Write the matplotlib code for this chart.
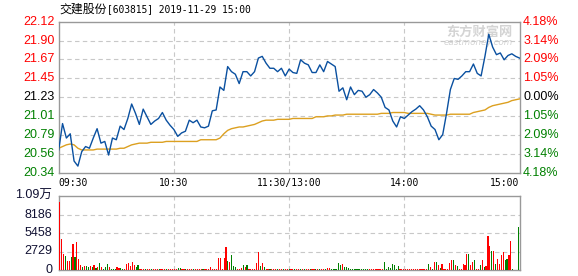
import matplotlib
matplotlib.use('Agg')
import matplotlib.pyplot as plt
import numpy as np

# ---------------- data ----------------
title_name = "交建股份"
title_rest = "[603815] 2019-11-29 15:00"
prev_close = 21.23
price_labels = ["22.12", "21.90", "21.67", "21.45", "21.23", "21.01", "20.79", "20.56", "20.34"]
pct_labels = ["4.18%", "3.14%", "2.09%", "1.05%", "0.00%", "1.05%", "2.09%", "3.14%", "4.18%"]
time_labels = ["09:30", "10:30", "11:30/13:00", "14:00", "15:00"]
time_pos = [0, 60, 120, 180, 240]
vol_labels = ["1.09万", "8186", "5458", "2729", "0"]
vol_max = 10916

# price every 2 minutes (minute index 0, 2, ..., 240)
price = [
    20.61, 20.92, 20.75, 20.80, 20.48, 20.42, 20.59, 20.65, 20.63, 20.75,
    20.86, 20.69, 20.71, 20.55, 20.75, 20.73, 20.89, 20.85, 20.98, 21.15,
    21.04, 20.91, 21.09, 21.00, 20.91, 20.95, 20.98, 21.05, 20.96, 20.90,
    20.85, 20.77, 20.81, 20.83, 20.96, 20.93, 20.96, 20.88, 20.87, 20.89,
    21.07, 21.08, 21.35, 21.31, 21.59, 21.53, 21.50, 21.39, 21.53, 21.53,
    21.48, 21.53, 21.69, 21.71, 21.63, 21.57, 21.57, 21.53, 21.57, 21.48,
    21.56, 21.52, 21.51, 21.67, 21.63, 21.61, 21.52, 21.52, 21.61, 21.53,
    21.65, 21.62, 21.59, 21.30, 21.34, 21.20, 21.35, 21.26, 21.31, 21.30,
    21.23, 21.26, 21.32, 21.28, 21.23, 21.11, 21.08, 20.95, 20.88, 21.00,
    20.98, 21.02, 21.06, 21.09, 21.13, 21.08, 21.00, 20.89, 20.85, 20.73,
    20.79, 21.04, 21.32, 21.45, 21.44, 21.48, 21.53, 21.53, 21.62, 21.51,
    21.48, 21.71, 21.97, 21.82, 21.73, 21.75, 21.67, 21.72, 21.74, 21.71,
    21.69,
]
avg_price = [
    20.63, 20.65, 20.67, 20.68, 20.67, 20.63, 20.61, 20.61, 20.61, 20.61,
    20.62, 20.62, 20.62, 20.62, 20.62, 20.62, 20.63, 20.63, 20.65, 20.67,
    20.68, 20.69, 20.69, 20.69, 20.70, 20.70, 20.70, 20.70, 20.71, 20.71,
    20.71, 20.71, 20.71, 20.71, 20.71, 20.71, 20.71, 20.73, 20.73, 20.73,
    20.73, 20.73, 20.75, 20.80, 20.84, 20.86, 20.87, 20.88, 20.88, 20.89,
    20.90, 20.91, 20.93, 20.95, 20.96, 20.96, 20.96, 20.97, 20.97, 20.97,
    20.97, 20.98, 20.98, 20.98, 20.98, 20.98, 20.98, 21.00, 21.00, 21.00,
    21.01, 21.01, 21.02, 21.02, 21.02, 21.03, 21.03, 21.03, 21.03, 21.03,
    21.03, 21.03, 21.03, 21.03, 21.04, 21.04, 21.04, 21.05, 21.05, 21.05,
    21.05, 21.04, 21.04, 21.04, 21.04, 21.04, 21.04, 21.03, 21.02, 21.02,
    21.02, 21.02, 21.03, 21.03, 21.03, 21.03, 21.03, 21.03, 21.05, 21.06,
    21.07, 21.08, 21.11, 21.13, 21.14, 21.15, 21.16, 21.17, 21.19, 21.20,
    21.21,
]
# volume per minute (241 bars)
volume = [
    10090, 4580, 2360, 2070, 1330, 1330, 1970, 3840, 1970, 4130, 1670, 700, 490, 590, 590, 440, 540, 490, 690, 250,
    490, 1030, 390, 200, 490, 890, 390, 150, 150, 150, 390, 250, 250, 100, 100, 940, 1080, 540, 1230, 790,
    490, 790, 150, 120, 100, 120, 100, 120, 100, 120, 120, 100, 120, 100, 120, 120, 100, 120, 100, 120,
    120, 100, 250, 250, 120, 100, 120, 100, 120, 120, 100, 120, 100, 120, 120, 100, 120, 100, 120, 390,
    120, 150, 120, 1720, 1720, 120, 1720, 3400, 1380, 1230, 2210, 540, 390, 100, 150, 300, 740, 440, 740, 150,
    120, 100, 120, 1030, 2610, 590, 990, 390, 120, 100, 120, 120, 100, 120, 100, 120, 120, 100, 120, 100,
    120, 100, 120, 120, 100, 120, 100, 120, 120, 100, 120, 100, 120, 120, 100, 120, 100, 120, 120, 100,
    250, 250, 150, 120, 100, 120, 990, 740, 890, 390, 390, 250, 150, 120, 100, 120, 120, 100, 120, 100,
    150, 120, 100, 120, 200, 120, 100, 120, 120, 100, 1130, 200, 390, 250, 890, 740, 120, 590, 120, 100,
    120, 100, 120, 120, 100, 120, 100, 120, 120, 100, 120, 100, 120, 890, 390, 200, 1130, 1130, 690, 250,
    940, 200, 200, 200, 1030, 1480, 1480, 740, 590, 150, 150, 890, 740, 2360, 2360, 740, 1230, 1480, 150, 150,
    740, 1480, 390, 540, 5020, 3540, 2800, 2800, 890, 1620, 890, 2210, 2610, 1480, 1620, 2210, 4330, 100, 0, 0, 6400,
]
vol_dir = (
    "rrrgrrgrgrrrgrggrgrg"
    "rgrgggrgggrrggrrrrrr"
    "ggrrrgrrgrrrgrrrgrrr"
    "rrggrrgrrrgrrrrgrrrr"
    "rrrrrrrrgrgggrrrgrgr"
    "rrrrrgrgrrgrrrgrrgrr"
    "grrgrrgrgrrgrrgrgrrg"
    "rrggggggrggggggggggg"
    "ggrrrrrrrrggggggggrr"
    "rrrrrrrrrrrrrgrgrgrg"
    "rrrrrrgrgrrrrrgrrgrr"
    "grgrrrgrgrrrrggrrgggg"
)

# ---------------- styling ----------------
RED = '#ff0000'
GREEN = '#008000'
BLUE = '#0a50a0'
ORANGE = '#dca020'
GRID = '#c8c8c8'
SPINE = '#999999'

W, H = 578, 276
fig = plt.figure(figsize=(W / 100, H / 100), dpi=100)
fig.patch.set_facecolor('white')

def fx(px):
    return px / W

def fy(py):
    return 1 - py / H

L, R = 58.7, 519.5
ax = fig.add_axes([fx(L), fy(172.7), fx(R) - fx(L), fy(21.7) - fy(172.7)])
axv = fig.add_axes([fx(L), fy(270), fx(R) - fx(L), fy(196) - fy(270)])

minutes = np.arange(0, 241, 2)
ax.plot(minutes, avg_price, color=ORANGE, lw=1.0, zorder=3)
ax.plot(minutes, price, color=BLUE, lw=1.0, zorder=4)

lo = prev_close * (1 - 0.0418)
hi = prev_close * (1 + 0.0418)
ax.set_ylim(lo, hi)
ax.set_xlim(0, 240)
levels = np.linspace(hi, lo, 9)

for lv in levels[1:-1]:
    ax.axhline(lv, color=GRID, lw=0.8, ls=(0, (4, 3)), zorder=1)
for t in time_pos[1:-1]:
    ax.axvline(t, color=GRID, lw=0.8, ls=(0, (4, 3)), zorder=1)

ax.set_yticks([])
ax.set_xticks(time_pos)
ax.set_xticklabels(time_labels, family='DejaVu Sans Mono', fontsize=7, color='black')
ax.tick_params(axis='x', length=0, pad=3.5)
tl = ax.get_xticklabels()
tl[0].set_ha('left')
tl[-1].set_ha('right')

for sp in ax.spines.values():
    sp.set_color(SPINE)
    sp.set_linewidth(1.0)

def lab_color(k):
    if k < 4:
        return RED
    if k == 4:
        return 'black'
    return GREEN

for k, lv in enumerate(levels):
    ax.text(-0.008, lv, price_labels[k], transform=ax.get_yaxis_transform(),
            ha='right', va='center', fontsize=9, family='Liberation Sans', color=lab_color(k))
    ax.text(1.008, lv, pct_labels[k], transform=ax.get_yaxis_transform(),
            ha='left', va='center', fontsize=9, family='Liberation Sans', color=lab_color(k))

# watermark
ax.text(0.985, 0.935, "东方财富网", transform=ax.transAxes, ha='right', va='center',
        fontsize=9.5, family='Noto Sans CJK SC', fontweight='bold', color='#d4d4d4', zorder=0.5)
ax.text(0.985, 0.86, "eastmoney.com", transform=ax.transAxes, ha='right', va='center',
        fontsize=6.3, family='DejaVu Sans', style='italic', color='#d4d4d4', zorder=0.5)

# ---------------- volume ----------------
vx = np.arange(len(volume))
vcol = [RED if c == 'r' else GREEN for c in vol_dir]
axv.bar(vx, volume, width=0.6, color=vcol, linewidth=0, zorder=3, antialiased=False)
axv.set_xlim(-0.5, 240.5)
axv.set_ylim(0, vol_max)
vlev = np.linspace(vol_max, 0, 5)
for lv in vlev[1:-1]:
    axv.axhline(lv, color=GRID, lw=0.8, ls=(0, (4, 3)), zorder=1)
for t in time_pos[1:-1]:
    axv.axvline(t, color=GRID, lw=0.8, ls=(0, (4, 3)), zorder=1)
axv.set_xticks([])
axv.set_yticks([])
for sp in axv.spines.values():
    sp.set_color(SPINE)
    sp.set_linewidth(1.0)
for k, lv in enumerate(vlev):
    axv.text(-0.014, lv, vol_labels[k], transform=axv.get_yaxis_transform(),
             ha='right', va='center', fontsize=9,
             family=['Liberation Sans', 'Noto Sans CJK SC'], color='#111133')

# ---------------- title ----------------
fig.text(fx(59), fy(9.5), title_name, ha='left', va='center', fontsize=8.6,
         family='Noto Sans CJK SC', color='black')
fig.text(fx(107), fy(9.5), title_rest, ha='left', va='center', fontsize=6.9,
         family='DejaVu Sans Mono', color='black')

fig.savefig('out.png', dpi=100, facecolor='white')
